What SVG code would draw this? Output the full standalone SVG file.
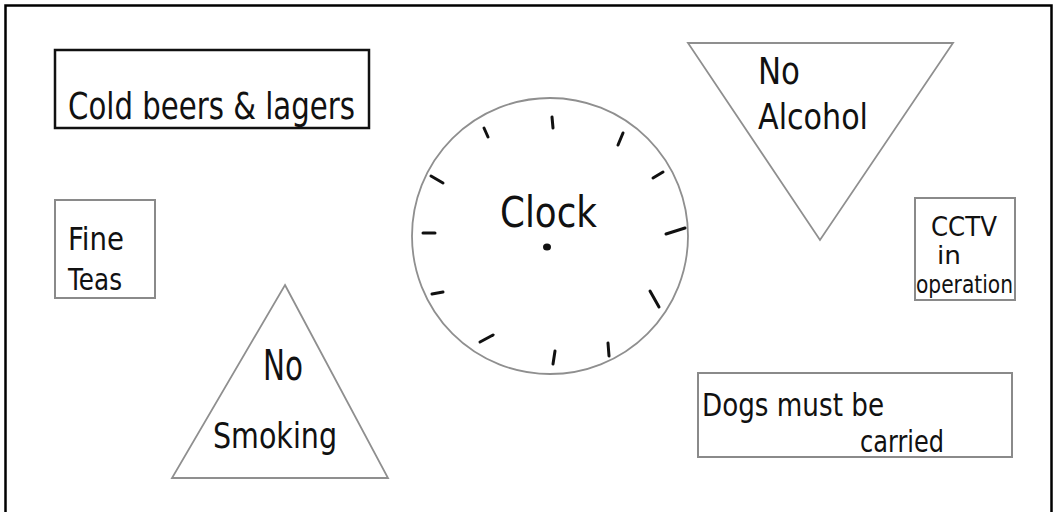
<svg xmlns="http://www.w3.org/2000/svg" width="1055" height="512" viewBox="0 0 1055 512">
<style>
.frame{fill:none;stroke:#000;stroke-width:2.5}
.box{fill:none;stroke:#8a8a8a;stroke-width:2}
.boxdark{fill:none;stroke:#111;stroke-width:2.5}
.shape{fill:none;stroke:#8f8f8f;stroke-width:1.8;stroke-linejoin:miter}
.tick{stroke:#111;stroke-width:3;stroke-linecap:round}
.t{font-family:"DejaVu Sans","Liberation Sans",sans-serif;fill:#111;font-weight:normal}
</style>
<rect width="1055" height="512" fill="#fff"/>
<path class="frame" d="M5.5 520 V5.5 H1051.5 V520"/>
<g id="cold-beers">
<rect class="boxdark" x="55" y="50" width="314" height="78"/>
<text class="t" x="68" y="119" font-size="38" textLength="287" lengthAdjust="spacingAndGlyphs">Cold beers &amp; lagers</text>
</g>
<g id="fine-teas">
<rect class="box" x="55" y="200" width="100" height="98"/>
<text class="t" x="68" y="250" font-size="32" textLength="56" lengthAdjust="spacingAndGlyphs">Fine</text>
<text class="t" x="68" y="290" font-size="30" textLength="54" lengthAdjust="spacingAndGlyphs">Teas</text>
</g>
<g id="no-smoking">
<polygon class="shape" points="285,285 388,478 172,478"/>
<text class="t" x="263" y="380" font-size="42" textLength="40" lengthAdjust="spacingAndGlyphs">No</text>
<text class="t" x="213" y="448" font-size="36" textLength="124" lengthAdjust="spacingAndGlyphs">Smoking</text>
</g>
<g id="clock">
<circle class="shape" cx="550" cy="236" r="138"/>
<text class="t" x="500" y="227" font-size="42" textLength="97" lengthAdjust="spacingAndGlyphs">Clock</text>
<ellipse cx="547" cy="247" rx="4" ry="3.5" fill="#111"/>
<g>
<line class="tick" x1="552" y1="117" x2="553" y2="128"/>
<line class="tick" x1="623" y1="133" x2="618" y2="145"/>
<line class="tick" x1="663" y1="172" x2="653" y2="178"/>
<line class="tick" x1="685" y1="228" x2="666" y2="234"/>
<line class="tick" x1="650" y1="291" x2="659" y2="307"/>
<line class="tick" x1="608" y1="343" x2="609" y2="356"/>
<line class="tick" x1="555" y1="351" x2="553" y2="364"/>
<line class="tick" x1="493" y1="335" x2="480" y2="342"/>
<line class="tick" x1="443" y1="292" x2="432" y2="294"/>
<line class="tick" x1="435" y1="233" x2="423" y2="233"/>
<line class="tick" x1="443" y1="183" x2="431" y2="176"/>
<line class="tick" x1="484" y1="128" x2="488" y2="137"/>
</g>
</g>
<g id="no-alcohol">
<polygon class="shape" points="688,43 953,43 820,240"/>
<text class="t" x="758" y="84" font-size="38" textLength="42" lengthAdjust="spacingAndGlyphs">No</text>
<text class="t" x="758" y="129" font-size="36" textLength="110" lengthAdjust="spacingAndGlyphs">Alcohol</text>
</g>
<g id="cctv">
<rect class="box" x="915" y="198" width="100" height="102"/>
<text class="t" x="931" y="236" font-size="26" textLength="66" lengthAdjust="spacingAndGlyphs">CCTV</text>
<text class="t" x="937" y="264" font-size="24" textLength="24" lengthAdjust="spacingAndGlyphs">in</text>
<text class="t" x="916" y="293" font-size="24" textLength="97" lengthAdjust="spacingAndGlyphs">operation</text>
</g>
<g id="dogs">
<rect class="box" x="698" y="373" width="314" height="84"/>
<text class="t" x="702" y="416" font-size="32" textLength="182" lengthAdjust="spacingAndGlyphs">Dogs must be</text>
<text class="t" x="860" y="452" font-size="30" textLength="84" lengthAdjust="spacingAndGlyphs">carried</text>
</g>
<g id="connectors"></g>
</svg>
